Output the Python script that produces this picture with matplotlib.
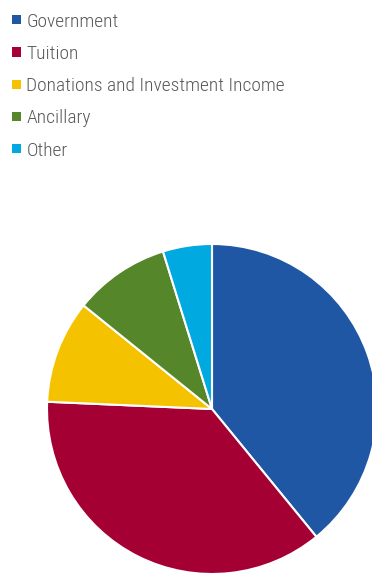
import matplotlib
matplotlib.use("Agg")
import matplotlib.pyplot as plt
from matplotlib.patches import Patch

categories = ["Government", "Tuition", "Donations and Investment Income", "Ancillary", "Other"]
shares = [39.1, 36.6, 10.1, 9.4, 4.8]
colors = ["#1F57A5", "#A50034", "#F5C200", "#558629", "#00A9E0"]

W, H = 372, 576
fig = plt.figure(figsize=(W / 100, H / 100), dpi=100)
fig.patch.set_facecolor("white")

# pie axes: centre (212, 409) px, radius 165 px
cx, cy, r = 212, 409, 165
ax = fig.add_axes([(cx - r) / W, (H - cy - r) / H, 2 * r / W, 2 * r / H])
wedges, _ = ax.pie(shares, colors=colors, startangle=90, counterclock=False,
                   radius=1.0, wedgeprops=dict(edgecolor="white", linewidth=1.5))
for w in wedges:
    w.set_clip_on(False)
ax.set_xlim(-1, 1)
ax.set_ylim(-1, 1)
ax.set_aspect("equal")
ax.axis("off")

handles = [Patch(facecolor=c, edgecolor="none") for c in colors]
leg = fig.legend(handles, categories, loc="upper left",
                 bbox_to_anchor=(4 / W, 1 - 5 / H), frameon=False,
                 prop=dict(family=["Roboto Condensed", "DejaVu Sans"], size=14, weight="light"),
                 handlelength=0.45, handleheight=0.35, handletextpad=0.3,
                 labelspacing=0.73, borderaxespad=0)
for t in leg.get_texts():
    t.set_color("#595959")

fig.savefig("out.png", dpi=100, facecolor="white")
